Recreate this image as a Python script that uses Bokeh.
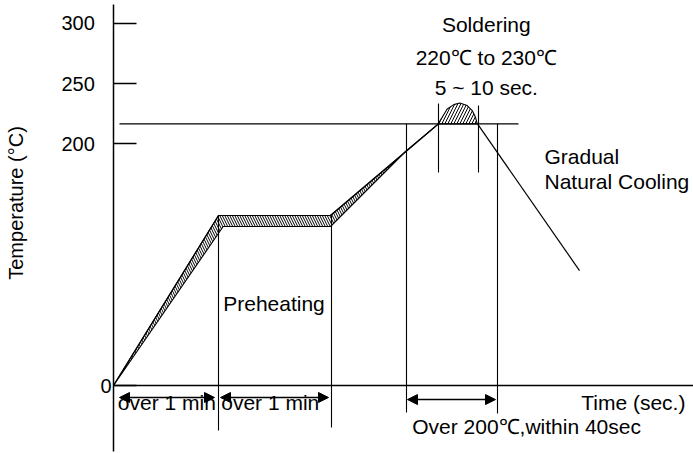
from bokeh.plotting import figure
from bokeh.models import FixedTicker, Arrow, NormalHead, Span
from bokeh.core.properties import value
from bokeh.embed import file_html
from bokeh.resources import INLINE

FONT = "Liberation Sans"

# ---- data (time in arbitrary units, temperature on the axis scale) ----
y_ticks = [0, 200, 250, 300]
PAD = "\u00a0\u00a0\u00a0"
LABEL_PAD = "\u00a0" * 9

outer_time = [0, 105, 217, 325]
outer_temp = [0, 140.8, 140.8, 216.7]
inner_time = [0, 109.7, 217, 292, 325]
inner_temp = [0, 131.7, 131.7, 193.8, 216.7]

peak_time = [324.7, 328.7, 333.7, 340.3, 346.3, 353.7, 358.7, 362.0, 363.7]
peak_temp = [216.7, 222.1, 229.0, 232.6, 234.0, 231.8, 227.7, 222.1, 216.7]

solder_level = 216.7
solder_line_time = [6, 405]

cool_time = [364, 466]
cool_temp = [216.7, 95.2]

marker_time = [105, 218, 293, 384, 325, 365]
marker_top = [140.8, 140.8, 216.7, 216.7, 233.5, 231.8]
marker_bottom = [-37.3, -34.8, -22.4, -23.2, 176.4, 176.4]

arrow_start = [6, 107, 294]
arrow_end = [101, 215, 382]
arrow_level = [-9.9, -9.9, -11.6]

center_texts = ["Soldering", "220\u2103 to 230\u2103", "5 ~ 10 sec."]
center_x = [372.8, 372.8, 372.8]
center_y = [299.3, 272.0, 247.0]

left_texts = ["Gradual", "Natural Cooling", "Preheating", "over 1 min", "over 1 min",
              "Over 200\u2103,within 40sec", "Time (sec.)"]
left_x = [431, 431, 109.7, 4.3, 107.7, 298.7, 467.7]
left_y = [189.7, 169.0, 67.7, -13.7, -13.7, -33.6, -14.3]

# ---- figure ----
p = figure(width=693, height=453, x_range=(0, 580), y_range=(-54.6, 315.5),
           output_backend="svg", toolbar_location=None, x_axis_location=None,
           min_border_left=113, min_border_right=0, min_border_top=4, min_border_bottom=2)
p.outline_line_color = None
p.xgrid.grid_line_color = None
p.ygrid.grid_line_color = None
p.background_fill_color = "white"

ax = p.yaxis[0]
ax.ticker = FixedTicker(ticks=y_ticks)
ax.major_label_overrides = {t: (str(t) if t == 0 else str(t) + PAD) for t in y_ticks}
ax.minor_tick_line_color = None
ax.major_tick_in = 23
ax.major_tick_out = 0
ax.major_tick_line_width = 1.5
ax.major_tick_line_color = "black"
ax.axis_line_width = 1.5
ax.axis_line_color = "black"
ax.major_label_standoff = 2
ax.major_label_text_font = FONT
ax.major_label_text_font_size = "20px"
ax.major_label_text_color = "black"
ax.axis_label = LABEL_PAD + "Temperature (\u00b0C)"
ax.axis_label_standoff = 31
ax.axis_label_text_font = FONT
ax.axis_label_text_font_size = "20px"
ax.axis_label_text_font_style = "normal"
ax.axis_label_text_color = "black"

# x axis line at 0
p.add_layout(Span(location=0, dimension="width", line_color="black", line_width=1.5))

# hatched band of the heating profile
band_x = outer_time + inner_time[::-1]
band_y = outer_temp + inner_temp[::-1]
p.patch(band_x, band_y, fill_color=None, line_color="black", line_width=1.1,
        hatch_pattern="\\", hatch_color="black", hatch_scale=5, hatch_weight=1)
p.line(outer_time, outer_temp, line_color="black", line_width=1.2)

# soldering peak
p.patch(peak_time, peak_temp, fill_color=None, line_color="black", line_width=1.1,
        hatch_pattern="/", hatch_color="black", hatch_scale=6, hatch_weight=1)

# 220 line
p.line(solder_line_time, [solder_level, solder_level], line_color="black", line_width=1.1)

# cooling
p.line(cool_time, cool_temp, line_color="black", line_width=1.2)

# vertical markers
p.segment(marker_time, marker_top, marker_time, marker_bottom, line_color="black", line_width=1.1)

# arrows
for xs, xe, yl in zip(arrow_start, arrow_end, arrow_level):
    p.add_layout(Arrow(x_start=xs, y_start=yl, x_end=xe, y_end=yl, line_width=1.5,
                       start=NormalHead(size=10, fill_color="black", line_color="black"),
                       end=NormalHead(size=10, fill_color="black", line_color="black")))

# texts
p.text(center_x, center_y, text=center_texts, text_align="center", text_baseline="alphabetic",
       text_font=value(FONT), text_font_size="21px", text_color="black")
p.text(left_x, left_y, text=left_texts, text_align="left", text_baseline="alphabetic",
       text_font=value(FONT), text_font_size="21px", text_color="black")

open("out.html", "w").write(file_html(p, INLINE))
